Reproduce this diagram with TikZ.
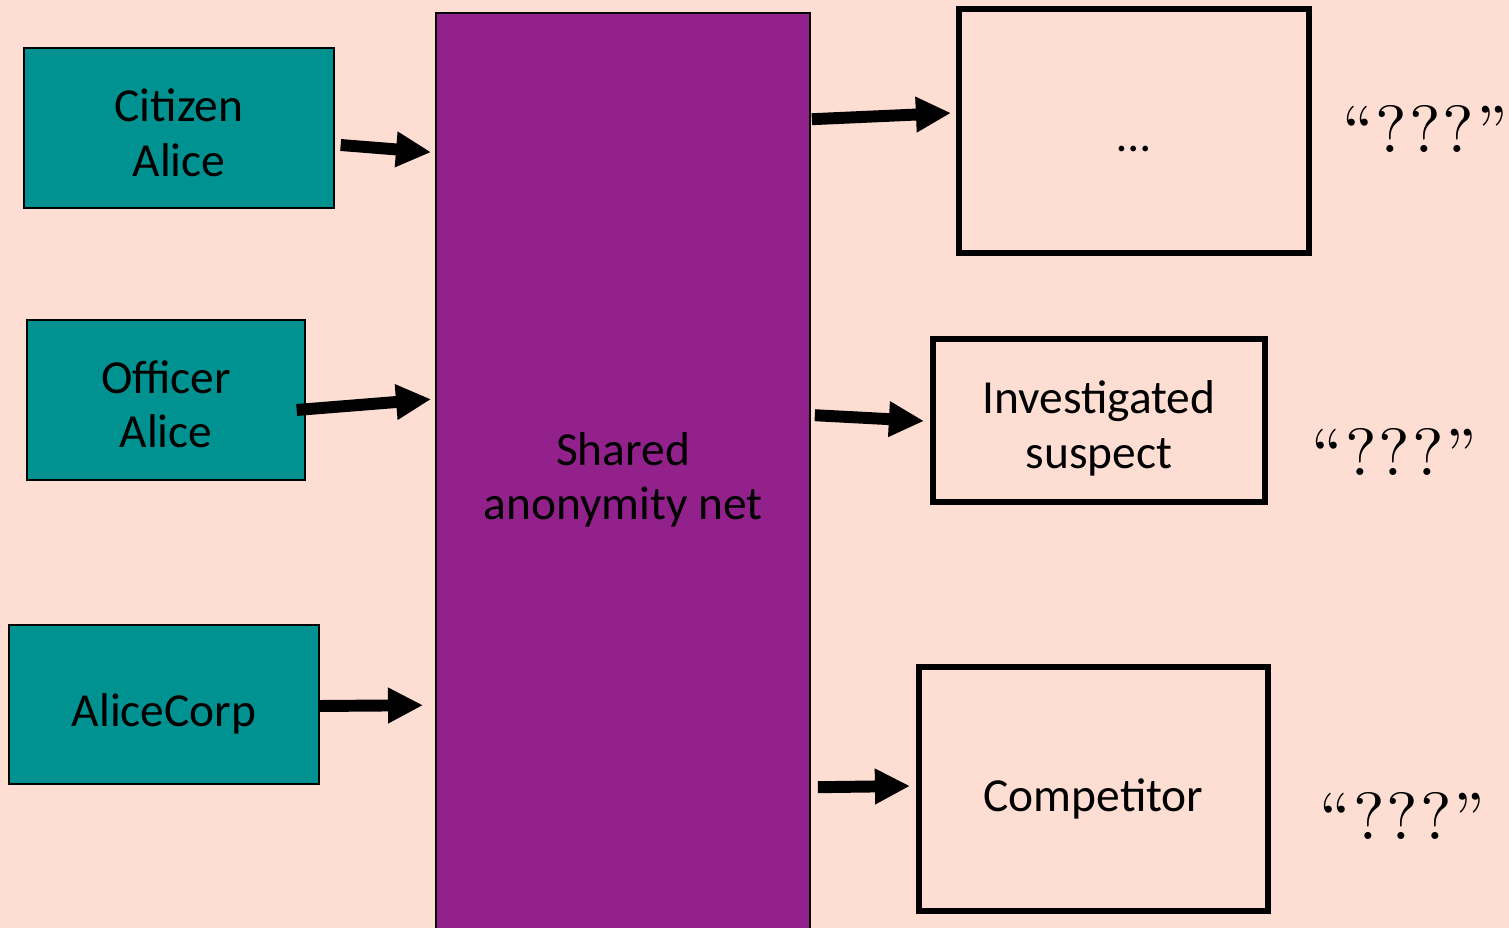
\documentclass[tikz,border=0pt]{standalone}
\usepackage{fontspec}
\newfontfamily\boxfont{Carlito}
\newfontfamily\quotefont[LetterSpace=3]{lmroman10-regular.otf}
\usepackage{tikz}
\usetikzlibrary{arrows.meta, calc}

\definecolor{peach}{RGB}{254,222,211}
\definecolor{sender}{RGB}{0,146,144}
\definecolor{mixnet}{RGB}{146,33,140}

\begin{document}
\begin{tikzpicture}[
		x=0.02cm, y=-0.02cm,
		user/.style ={
			rectangle,	draw=black,	fill=sender,
			line width=0.8pt,	inner sep=0pt,	align=center,
			font=\boxfont\fontsize{27}{31}\selectfont
		},
		net/.style ={
			rectangle,	draw=black,	fill=mixnet,
			line width=1pt,	inner sep=0pt,	align=center,
			font=\boxfont\fontsize{27}{31}\selectfont
		},
		target/.style={
			rectangle,	draw=black,	fill=peach,
			line width=3.4pt,	inner sep=0pt,	align=center,
			font=\boxfont\fontsize{27}{31}\selectfont
		},
		guess/.style={
			font=\quotefont\fontsize{38}{40}\selectfont
		},
		conn/.style={
			line width=6.8pt,	-{Triangle[length=20pt, width=19pt]}
		},
	]

	\newcommand{\shiftdown}[2]{\raisebox{-#1}[\height][\depth]{#2}}

	% background
	\fill [peach] (0,0) rectangle (1509,928);
	\useasboundingbox (0,0) rectangle (1509,928);

	% senders
	\node (citizen)   at (179,128)   [user, minimum width=6.2cm,  minimum height=3.2cm]
		{\shiftdown{2.6pt}{Citizen}\\\shiftdown{2.6pt}{Alice}};
	\node (officer)   at (166,400)   [user, minimum width=5.56cm, minimum height=3.2cm]
		{\shiftdown{2.4pt}{Officer}\\\shiftdown{2.4pt}{Alice}};
	\node (alicecorp) at (164,704.5) [user, minimum width=6.2cm,  minimum height=3.18cm]
		{\shiftdown{5.3pt}{AliceCorp}};

	% anonymity net
	\node (anonnet) at (623,478) [net, minimum width=7.48cm, minimum height=18.6cm]
		{\shiftdown{1.2pt}{Shared}\\\shiftdown{1.2pt}{anonymity net}};

	% receivers
	\node (unknown)    at (1134,131)    [target, minimum width=7cm,    minimum height=4.88cm]
		{\shiftdown{10.5pt}{\dots}};
	\node (suspect)    at (1099,420.5)  [target, minimum width=6.64cm, minimum height=3.26cm]
		{\shiftdown{4.5pt}{Investigated}\\\shiftdown{4.5pt}{suspect}};
	\node (competitor) at (1093.5,789)  [target, minimum width=6.98cm, minimum height=4.88cm]
		{\shiftdown{5.5pt}{Competitor}};

	% what the receiver learns
	\node (guess1) at (1425,129)   [guess] {“???”};
	\node (guess2) at (1394.5,452) [guess] {“???”};
	\node (guess3) at (1402.5,816) [guess] {“???”};

	% interconnections
	\draw [conn] ([shift={(6,17)}]citizen.east)   -- ([shift={(-4,140)}]anonnet.north west);
	\draw [conn] ([shift={(-9,10)}]officer.east)  -- ([shift={(-4,387)}]anonnet.north west);
	\draw [conn] ([shift={(0,1.5)}]alicecorp.east) -- ([shift={(-12,693)}]anonnet.north west);

	\draw [conn] ([shift={(1,107)}]anonnet.north east) -- ([shift={(-5,-18)}]unknown.west);
	\draw [conn] ([shift={(4,403)}]anonnet.north east) -- ([shift={(-6,0.5)}]suspect.west);
	\draw [conn] ([shift={(7,775)}]anonnet.north east) -- ([shift={(-6,-3)}]competitor.west);

\end{tikzpicture}
\end{document}
